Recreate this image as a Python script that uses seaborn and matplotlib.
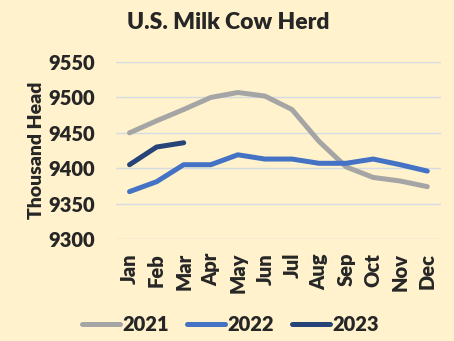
import matplotlib
matplotlib.use("Agg")
import matplotlib.pyplot as plt
import seaborn as sns
import pandas as pd

months = ["Jan", "Feb", "Mar", "Apr", "May", "Jun",
          "Jul", "Aug", "Sep", "Oct", "Nov", "Dec"]
herd_2021 = [9450, 9467, 9483, 9500, 9507, 9502, 9483, 9438, 9402, 9387, 9382, 9374]
herd_2022 = [9367, 9381, 9405, 9405, 9419, 9413, 9413, 9407, 9407, 9413, 9405, 9396]
herd_2023 = [9405, 9430, 9436]
years = ["2021", "2022", "2023"]
colors = ["#A5A5A5", "#4472C4", "#264478"]

rows = []
for yr, vals in zip(years, [herd_2021, herd_2022, herd_2023]):
    for m, v in zip(months, vals):
        rows.append({"Month": m, "Herd": v, "Year": yr})
df = pd.DataFrame(rows)
df["Month"] = pd.Categorical(df["Month"], categories=months, ordered=True)
df["x"] = df["Month"].cat.codes

sns.set_theme(style="white")
bg = "#FFF2CC"
W = "heavy"
plt.rcParams["font.family"] = ["Lato", "DejaVu Sans"]
plt.rcParams["font.weight"] = W

fig = plt.figure(figsize=(4.54, 3.41), dpi=100, facecolor=bg)
ax = fig.add_axes([0.2555, 0.299, 0.7155, 0.519])
ax.set_facecolor(bg)

sns.lineplot(data=df, x="x", y="Herd", hue="Year", palette=colors,
             linewidth=3.6, ax=ax, legend=True, solid_capstyle="round")

ax.set_xlim(-0.5, 11.5)
ax.set_ylim(9300, 9550)
ax.set_yticks([9300, 9350, 9400, 9450, 9500, 9550])
ax.set_xticks(range(12))
ax.set_xticklabels(months, rotation=90, fontsize=14.5, fontweight=W)
for lab in ax.get_yticklabels():
    lab.set_fontsize(14.5)
    lab.set_fontweight(W)
ax.tick_params(axis="y", pad=15, length=0)
ax.tick_params(axis="x", pad=10, length=0)
ax.grid(axis="y", color="#D6DCE4", linewidth=1.0)
ax.set_axisbelow(True)
for s in ax.spines.values():
    s.set_visible(False)

ax.set_xlabel("")
ax.set_ylabel("Thousand Head", fontsize=14, fontweight=W)
ax.yaxis.set_label_coords(-0.22, 0.5)

fig.suptitle("U.S. Milk Cow Herd", x=0.503, y=0.965, fontsize=16.5, fontweight=W)

handles, labels = ax.get_legend_handles_labels()
ax.legend(handles, labels, loc="center", bbox_to_anchor=(0.507, 0.047),
          bbox_transform=fig.transFigure, ncol=3, frameon=False,
          handlelength=1.9, columnspacing=0.9, handletextpad=0.1,
          prop={"weight": W, "size": 14.5})

fig.savefig("out.png", dpi=100, facecolor=bg)
